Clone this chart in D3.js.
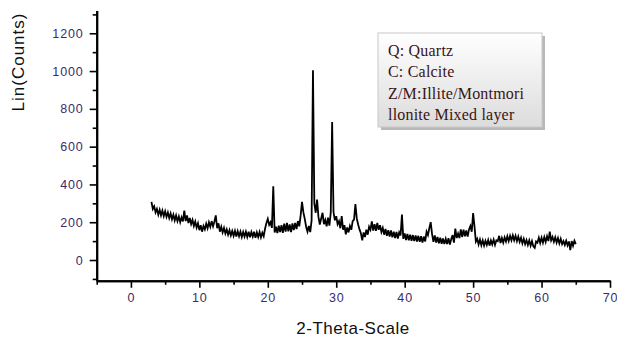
<!DOCTYPE html>
<html>
<head>
<meta charset="utf-8">
<script src="https://cdn.jsdelivr.net/npm/d3@7"></script>
<style>
body { margin: 0; background: #fff; }
svg { display: block; }
</style>
</head>
<body>
<script>
// scan grid (degrees 2-theta) and counts
var thetaStart = 3;
var thetaStep = 0.2;
var counts = [
  308, 270, 284, 252, 270,
  240, 266, 236, 262, 232,
  258, 228, 252, 222, 246,
  216, 240, 210, 236, 206,
  230, 200, 226, 204, 262,
  206, 236, 196, 222, 190,
  212, 180, 204, 172, 194,
  158, 184, 150, 180, 162,
  192, 168, 200, 176, 206,
  178, 204, 236, 168, 194,
  150, 176, 146, 170, 140,
  162, 134, 158, 130, 154,
  128, 154, 124, 152, 126,
  150, 122, 148, 124, 150,
  122, 150, 120, 148, 124,
  150, 118, 146, 122, 148,
  120, 144, 126, 166, 196,
  218, 186, 200, 170, 390,
  146, 176, 142, 182, 148,
  184, 144, 192, 150, 196,
  152, 188, 148, 194, 158,
  196, 164, 206, 178, 236,
  308, 252, 218, 176, 150,
  180, 148, 210, 1004, 300,
  250, 320, 228, 188, 220,
  250, 190, 212, 178, 224,
  182, 252, 731, 254, 210,
  232, 190, 206, 168, 232,
  160, 184, 136, 172, 146,
  180, 160, 206, 214, 296,
  220, 188, 162, 142, 104,
  146, 122, 160, 134, 176,
  160, 204, 156, 190, 154,
  196, 160, 184, 148, 170,
  134, 164, 128, 158, 124,
  156, 120, 150, 116, 148,
  114, 146, 130, 240, 112,
  140, 106, 138, 104, 134,
  102, 132, 100, 130, 98,
  128, 96, 126, 92, 124,
  98, 150, 132, 168, 200,
  138, 96, 130, 92, 122,
  88, 118, 86, 114, 84,
  112, 84, 116, 82, 110,
  132, 92, 166, 116, 140,
  116, 162, 122, 160, 126,
  156, 124, 162, 180, 150,
  248, 178, 98, 112, 82,
  108, 78, 104, 76, 102,
  80, 106, 76, 104, 82,
  108, 80, 104, 100, 128,
  90, 116, 92, 120, 98,
  126, 100, 128, 104, 130,
  104, 128, 100, 124, 96,
  118, 88, 112, 84, 106,
  80, 104, 76, 100, 72,
  64, 98, 92, 118, 90,
  118, 92, 122, 96, 126,
  100, 150, 104, 122, 96,
  120, 92, 116, 88, 112,
  84, 100, 80, 102, 78,
  98, 52, 100, 76, 102,
  84
];

var xTicks = [0, 10, 20, 30, 40, 50, 60, 70];
var xMinor = [-5, 5, 15, 25, 35, 45, 55, 65];
var yTicks = [0, 200, 400, 600, 800, 1000, 1200];
var yMinor = [-100, 100, 300, 500, 700, 900, 1100, 1300];
var legendLines = ["Q: Quartz", "C: Calcite", "Z/M:Illite/Montmori", "llonite Mixed layer"];

var width = 617;
var height = 340;

var data = counts.map((c, i) => {
  return { theta: thetaStart + i * thetaStep, count: c };
});

var svg = d3.select("body")
  .append("svg")
    .attr("width", width)
    .attr("height", height);

var x = d3.scaleLinear()
  .domain([-5, 70])
  .range([96.7, 610]);

var y = d3.scaleLinear()
  .domain([-110, 1320])
  .range([280.8, 10.6]);

var tickColor = "#3c2c6a";

// x axis
svg.append("g")
  .attr("transform", "translate(0," + y(-110) + ")")
  .call(d3.axisBottom(x).tickValues(xTicks).tickFormat(d3.format("d"))
    .tickSize(7).tickPadding(5).tickSizeOuter(0));
svg.append("g")
  .attr("transform", "translate(0," + y(-110) + ")")
  .call(d3.axisBottom(x).tickValues(xMinor).tickSize(4).tickFormat("").tickSizeOuter(0));

// y axis
svg.append("g")
  .attr("transform", "translate(" + x(-5) + ",0)")
  .call(d3.axisLeft(y).tickValues(yTicks).tickFormat(d3.format("d"))
    .tickSize(7).tickPadding(6).tickSizeOuter(0));
svg.append("g")
  .attr("transform", "translate(" + x(-5) + ",0)")
  .call(d3.axisLeft(y).tickValues(yMinor).tickSize(4).tickFormat("").tickSizeOuter(0));

svg.selectAll(".domain")
  .attr("stroke", "#000")
  .attr("stroke-width", 2);
svg.selectAll(".tick line")
  .attr("stroke", "#000")
  .attr("stroke-width", 1.6);

svg.selectAll(".tick text")
  .attr("fill", tickColor)
  .style("font-family", "Liberation Sans, Arial, sans-serif")
  .style("font-size", "12.5px")
  .style("letter-spacing", "0.9px");

// axis labels
svg.append("text")
  .attr("x", 353)
  .attr("y", 334)
  .attr("text-anchor", "middle")
  .style("font-family", "Liberation Sans, Arial, sans-serif")
  .style("font-size", "17px")
  .style("letter-spacing", "0.5px")
  .attr("fill", "#111")
  .text("2-Theta-Scale");

svg.append("text")
  .attr("transform", "translate(24,62) rotate(-90)")
  .attr("text-anchor", "middle")
  .style("font-family", "Liberation Sans, Arial, sans-serif")
  .style("font-size", "17px")
  .style("letter-spacing", "1px")
  .attr("fill", "#111")
  .text("Lin(Counts)");

// the pattern
var line = d3.line()
  .x((d) => { return x(d.theta); })
  .y((d) => { return y(d.count); });

svg.append("path")
  .datum(data)
  .attr("fill", "none")
  .attr("stroke", "#000")
  .attr("stroke-width", 1.8)
  .attr("stroke-linejoin", "miter")
  .attr("d", line);

// legend box
var defs = svg.append("defs");
var grad = defs.append("linearGradient")
  .attr("id", "legendFill")
  .attr("x1", 0).attr("y1", 0).attr("x2", 0).attr("y2", 1);
grad.append("stop").attr("offset", "0%").attr("stop-color", "#ffffff");
grad.append("stop").attr("offset", "100%").attr("stop-color", "#dcdcdc");

var legend = svg.append("g")
  .attr("transform", "translate(378,33)");

legend.append("rect")
  .attr("x", 3).attr("y", 3)
  .attr("width", 164).attr("height", 94)
  .attr("fill", "#b8b8b8");
legend.append("rect")
  .attr("width", 164).attr("height", 94)
  .attr("fill", "url(#legendFill)")
  .attr("stroke", "#c8c8c8");

legend.selectAll("text.item")
  .data(legendLines)
  .enter()
  .append("text")
    .attr("class", "item")
    .attr("x", 10)
    .attr("y", (d, i) => { return 23 + i * 21.3; })
    .style("font-family", "Liberation Serif, Times New Roman, serif")
    .style("font-size", "16px")
    .style("letter-spacing", "0.2px")
    .attr("fill", "#3a1414")
    .text((d) => { return d; });
</script>
</body>
</html>
